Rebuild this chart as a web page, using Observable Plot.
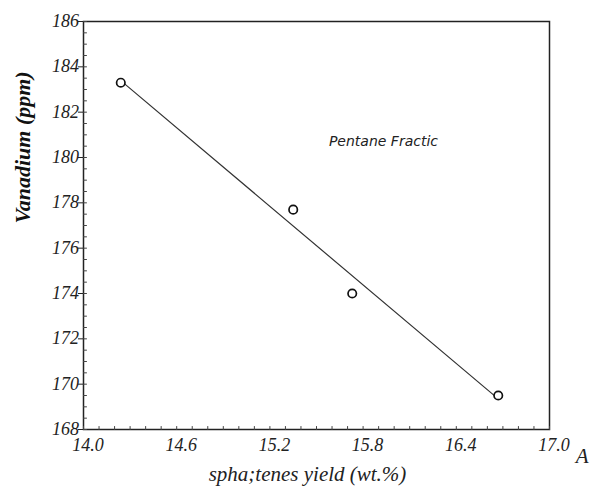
<!DOCTYPE html>
<html><head><meta charset="utf-8">
<script src="https://cdn.jsdelivr.net/npm/d3@7"></script>
<script src="https://cdn.jsdelivr.net/npm/@observablehq/plot@0.6"></script>
<style>
body{margin:0;background:#fff}
#chart{position:relative;width:599px;height:495px}
.tl{position:absolute;font-family:'Liberation Serif',serif;font-style:italic;font-size:18px;line-height:1;color:#222;white-space:nowrap}
</style>
</head><body><div id="chart"></div>
<script>
// Data
const asphalteneYield = [14.24, 15.35, 15.73, 16.67];
const vanadiumPpm = [183.3, 177.7, 174.0, 169.5];
const xTickLabels = ["14.0", "14.6", "15.2", "15.8", "16.4", "17.0"];
const yTickLabels = ["168", "170", "172", "174", "176", "178", "180", "182", "184", "186"];
const xMinorTicks = d3.range(140, 171).map(d => d / 10);
const yMinorTicks = d3.range(336, 373).map(d => d / 2);
const annotationText = ["Pentane Fractic"];
const annotationX = [15.58];
const annotationY = [180.7];
const xTitle = "spha;tenes yield (wt.%)";
const yTitle = "Vanadium (ppm)";
const cornerText = "A";

const points = asphalteneYield.map((x, i) => ({x, y: vanadiumPpm[i]}));
const notes = annotationText.map((t, i) => ({t, x: annotationX[i], y: annotationY[i]}));

const serif = "Liberation Serif";
const tickShape = {draw(context, l) { context.moveTo(0, 0); context.lineTo(0, -l); }};

const chart = Plot.plot({
  width: 599,
  height: 495,
  marginLeft: 83,
  marginRight: 50,
  marginTop: 21,
  marginBottom: 66,
  style: {fontFamily: "'Liberation Serif', serif", background: "#fff", color: "#222"},
  x: {domain: [14, 17]},
  y: {domain: [168, 186]},
  marks: [
    Plot.frame({stroke: "#222", strokeWidth: 1.5}),
    Plot.vector(xMinorTicks, {x: d => d, frameAnchor: "bottom", rotate: 0, length: 3, anchor: "start",
      shape: tickShape, stroke: "#444", strokeWidth: 1}),
    Plot.vector(yMinorTicks, {y: d => d, frameAnchor: "left", rotate: 90, length: 3, anchor: "start",
      shape: tickShape, stroke: "#444", strokeWidth: 1}),
    Plot.axisY({ticks: yTickLabels.map(Number), tickSize: 5, text: null, label: null, stroke: "#222"}),
    Plot.axisX({ticks: xTickLabels.map(Number), tickSize: 0, text: null, label: null}),
    Plot.linearRegressionY(points, {x: "x", y: "y", ci: 0, stroke: "#333", strokeWidth: 1.2}),
    Plot.dot(points, {x: "x", y: "y", r: 4.2, stroke: "#111", strokeWidth: 1.7, fill: "#fff"}),
    Plot.text(notes, {x: "x", y: "y", text: "t", textAnchor: "start", fontSize: 14,
      fontFamily: "DejaVu Sans", fontStyle: "italic", fill: "#222"}),
    Plot.text([yTitle], {frameAnchor: "left", rotate: -90, dx: -61, dy: -2, fontSize: 22,
      fontFamily: serif, fontWeight: "bold", fontStyle: "italic", fill: "#111"}),
    Plot.text([xTitle], {frameAnchor: "bottom", dx: -9, dy: 51, fontSize: 21,
      fontFamily: serif, fontStyle: "italic", fill: "#222"}),
    Plot.text([cornerText], {frameAnchor: "bottom-right", dx: 39, dy: 33, fontSize: 21,
      fontFamily: serif, fontStyle: "italic", fill: "#222"})
  ]
});
const wrap = document.getElementById("chart");
wrap.append(chart);

// Tick labels placed with Plot's own scales
const sx = chart.scale("x"), sy = chart.scale("y");
const xBase = sy.apply(168);
xTickLabels.forEach(t => {
  const s = document.createElement("span");
  s.className = "tl";
  s.textContent = t;
  s.style.left = (sx.apply(+t) + 5) + "px";
  s.style.top = (xBase + 16) + "px";
  s.style.transform = "translate(-50%, -50%)";
  wrap.append(s);
});
const yBase = sx.apply(14);
yTickLabels.forEach(t => {
  const s = document.createElement("span");
  s.className = "tl";
  s.textContent = t;
  s.style.left = (yBase - 4) + "px";
  s.style.top = sy.apply(+t) + "px";
  s.style.transform = "translate(-100%, -50%)";
  wrap.append(s);
});
</script>
</body></html>
